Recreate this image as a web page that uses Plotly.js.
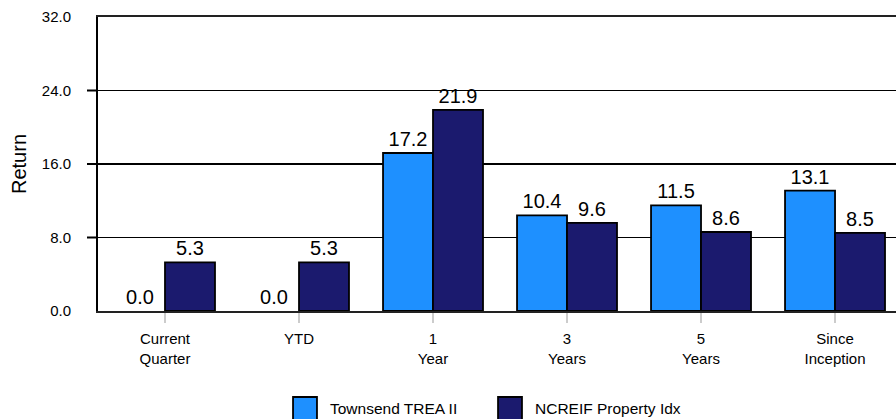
<!DOCTYPE html>
<html>
<head>
<meta charset="utf-8">
<script src="https://cdn.plot.ly/plotly-3.0.1.min.js"></script>
<style>html,body{margin:0;padding:0;background:#fff;}#chart{width:896px;height:419px;}</style>
</head>
<body>
<div id="chart"></div>
<script>
const categories = ["Current<br>Quarter", "YTD", "1<br>Year", "3<br>Years", "5<br>Years", "Since<br>Inception"];
const seriesNames = ["Townsend TREA II", "NCREIF Property Idx"];
const townsend = [0.0, 0.0, 17.2, 10.4, 11.5, 13.1];
const ncreif = [5.3, 5.3, 21.9, 9.6, 8.6, 8.5];
const yTickVals = [0, 8, 16, 24, 32];
const yTickText = ["0.0", "8.0", "16.0", "24.0", "32.0"];
const yTickMarks = [8, 16, 24];

const colors = ["#1E90FF", "#1B1A6E"];
const FONT = "Liberation Sans, Arial, Helvetica, sans-serif";
const PLOT_W = 798;

function barTrace(name, values, color) {
  return {
    type: "bar",
    name: name,
    x: categories,
    y: values,
    marker: {color: color, line: {color: "#000000", width: values.map(v => v === 0 ? 0 : 1.8)}},
    text: values.map(v => v.toFixed(1)),
    textposition: "outside",
    textfont: {family: FONT, size: 20, color: "#000000"},
    constraintext: "none",
    cliponaxis: false,
    showlegend: false,
    hoverinfo: "skip"
  };
}

const data = [
  barTrace(seriesNames[0], townsend, colors[0]),
  barTrace(seriesNames[1], ncreif, colors[1])
];

const shapes = [];
const annotations = [];

// outside tick marks on the y axis only at the inner gridlines
yTickMarks.forEach(v => {
  shapes.push({
    type: "line", xref: "paper", yref: "y",
    x0: -11 / PLOT_W, x1: 0, y0: v, y1: v,
    line: {color: "#000000", width: 2}, layer: "above"
  });
});

// custom legend with large swatches (paper coordinates)
const legendSwatchX = [[0.2444, 0.2744], [0.5013, 0.5313]];
const legendTextX = [0.2882, 0.5451];
seriesNames.forEach((n, i) => {
  shapes.push({
    type: "rect", xref: "paper", yref: "paper",
    x0: legendSwatchX[i][0], x1: legendSwatchX[i][1], y0: -0.3741, y1: -0.2925,
    fillcolor: colors[i], line: {color: "#000000", width: 1.8}
  });
  annotations.push({
    xref: "paper", yref: "paper", x: legendTextX[i], y: -0.333,
    xanchor: "left", yanchor: "middle", showarrow: false, text: n,
    font: {family: FONT, size: 15.5, color: "#000000"}
  });
});

const layout = {
  width: 896, height: 419,
  margin: {l: 98, r: 0, t: 17, b: 108, pad: 0},
  paper_bgcolor: "#ffffff", plot_bgcolor: "#ffffff",
  font: {family: FONT, color: "#000000"},
  barmode: "group",
  bargap: 0.254,
  bargroupgap: 0,
  showlegend: false,
  xaxis: {
    type: "category",
    range: [-0.5, 5.455],
    ticks: "outside", ticklen: 10, tickwidth: 2, tickcolor: "#cccccc",
    ticklabelstandoff: 3,
    tickfont: {family: FONT, size: 15, color: "#000000"},
    showline: true, mirror: true, linecolor: "#222222", linewidth: 2,
    showgrid: false, zeroline: false, automargin: false
  },
  yaxis: {
    range: [0, 32],
    tickmode: "array", tickvals: yTickVals, ticktext: yTickText,
    ticks: "", ticklabelstandoff: 22,
    tickfont: {family: FONT, size: 15, color: "#000000"},
    showgrid: true, gridcolor: "#000000", gridwidth: 1.8,
    showline: true, linecolor: "#000000", linewidth: 2,
    zeroline: false, automargin: false,
    title: {text: "Return", font: {family: FONT, size: 20, color: "#000000"}, standoff: 10}
  },
  shapes: shapes,
  annotations: annotations
};

Plotly.newPlot("chart", data, layout, {displayModeBar: false, staticPlot: true});
</script>
</body>
</html>
